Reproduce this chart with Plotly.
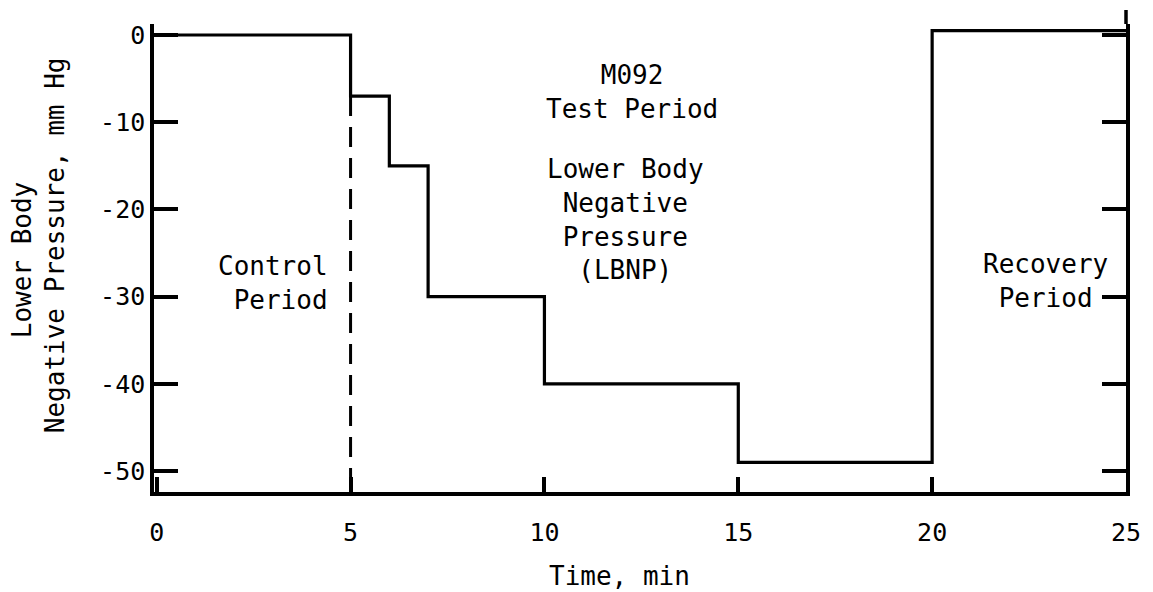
import plotly.graph_objects as go

# Data
time_min = [0, 5, 6, 7, 10, 15, 20, 25]
pressure_mmhg = [0, -7, -15, -30, -40, -49, 0.5, 0.5]
x_ticks = [0, 5, 10, 15, 20, 25]
y_ticks = [0, -10, -20, -30, -40, -50]
control_end = 5

FONT = "DejaVu Sans Mono"
BLACK = "#000000"
Y_RANGE = [-52.4, 1.26]

fig = go.Figure()
fig.add_trace(go.Scatter(
    x=time_min, y=pressure_mmhg, mode="lines", line=dict(shape="hv", color=BLACK, width=3.2),
    showlegend=False, hoverinfo="skip"))
# dashed control-period boundary
fig.add_trace(go.Scatter(
    x=[control_end, control_end], y=[pressure_mmhg[1], Y_RANGE[0]], mode="lines",
    line=dict(color=BLACK, width=3, dash="20px,11px"), showlegend=False, hoverinfo="skip"))

fig.update_layout(
    width=1153, height=592,
    margin=dict(l=154, r=25, t=24, b=100),
    paper_bgcolor="white", plot_bgcolor="white",
    font=dict(family=FONT, size=25, color=BLACK),
    xaxis=dict(range=[-0.07, 25.0], tickvals=x_ticks, ticktext=[str(v) for v in x_ticks],
               ticks="inside", ticklen=15, tickwidth=3.5, tickcolor=BLACK,
               showline=True, linewidth=3.5, linecolor=BLACK, showgrid=False, zeroline=False,
               ticklabelstandoff=15, tickfont=dict(family=FONT, size=25)),
    yaxis=dict(range=Y_RANGE, tickvals=y_ticks, ticktext=[str(v) for v in y_ticks],
               ticks="inside", ticklen=24, tickwidth=3.5, tickcolor=BLACK, mirror="allticks",
               showline=True, linewidth=3.5, linecolor=BLACK, showgrid=False, zeroline=False,
               tickfont=dict(family=FONT, size=25)),
)

# right axis line runs a little higher than the plot top
fig.add_shape(type="line", xref="paper", yref="paper", x0=1, x1=1, y0=1, y1=1 + 14 / 468,
              line=dict(color=BLACK, width=3.5))

ann = dict(showarrow=False, font=dict(family=FONT, size=26, color=BLACK))
fig.add_annotation(x=12.26, y=-6.5, text="M092<br>Test Period", xanchor="center", yanchor="middle", align="center", **ann)
fig.add_annotation(x=12.1, y=-21.2, text="Lower Body<br>Negative<br>Pressure<br>(LBNP)", xanchor="center", yanchor="middle", align="center", **ann)
fig.add_annotation(x=4.46, y=-28.4, text="Control<br>Period", xanchor="right", yanchor="middle", align="right", **ann)
fig.add_annotation(x=22.92, y=-28.2, text="Recovery<br>Period", xanchor="center", yanchor="middle", align="center", **ann)
fig.add_annotation(x=11.93, xref="x", y=-(576 - 492) / 468, yref="paper", text="Time, min", xanchor="center", yanchor="middle", **ann)
fig.add_annotation(x=(22 - 154) / 974, xref="paper", y=(492 - 260) / 468, yref="paper", text="Lower Body",
                   textangle=-90, xanchor="center", yanchor="middle", **ann)
fig.add_annotation(x=(55 - 154) / 974, xref="paper", y=(492 - 245) / 468, yref="paper", text="Negative Pressure, mm Hg",
                   textangle=-90, xanchor="center", yanchor="middle", **ann)

fig.write_html("out.html")
